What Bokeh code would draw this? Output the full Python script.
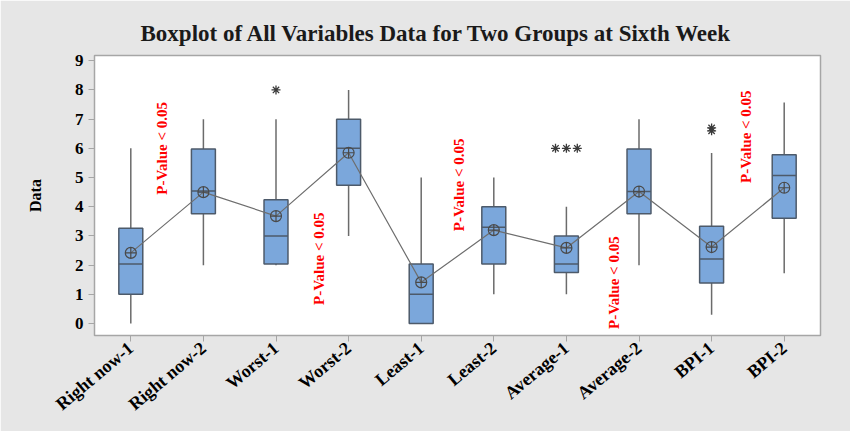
import math
from collections import Counter
from bokeh.plotting import figure
from bokeh.models import Range1d, FixedTicker, ColumnDataSource
from bokeh.core.properties import value
from bokeh.embed import file_html
from bokeh.resources import INLINE

# ---- data ----
categories = ["Right now-1", "Right now-2", "Worst-1", "Worst-2", "Least-1",
              "Least-2", "Average-1", "Average-2", "BPI-1", "BPI-2"]
whisker_low = [0.0, 2.0, 2.0, 3.0, 0.0, 1.0, 1.0, 2.0, 0.3, 1.72]
q1 = [1.0, 3.76, 2.04, 4.74, 0.0, 2.04, 1.75, 3.76, 1.39, 3.61]
median = [2.04, 4.54, 3.0, 6.0, 1.0, 3.3, 2.04, 4.52, 2.21, 5.07]
q3 = [3.26, 5.98, 4.24, 7.0, 2.04, 4.0, 3.0, 5.98, 3.33, 5.78]
whisker_high = [6.0, 7.0, 7.0, 8.0, 5.0, 5.0, 4.0, 7.0, 5.84, 7.57]
means = [2.42, 4.5, 3.68, 5.85, 1.41, 3.2, 2.59, 4.52, 2.62, 4.65]
outlier_cat = [3, 7, 7, 7, 9, 9]
outlier_val = [8.0, 6.0, 6.0, 6.0, 6.7, 6.6]
pvalue_text = ["P-Value < 0.05"] * 5
pvalue_x = [1.43, 3.59, 5.52, 7.65, 9.48]
pvalue_y = [6.0, 2.22, 4.75, 1.4, 6.4]
yticks = list(range(0, 10))

xs = list(range(1, len(categories) + 1))
BOX_W = 0.33
SERIF = "Liberation Serif"

p = figure(width=850, height=431, output_backend="svg", toolbar_location=None,
           x_range=Range1d(0.5, 10.5), y_range=Range1d(-0.41, 9.18),
           min_border_left=94, min_border_right=30, min_border_top=55,
           min_border_bottom=96,
           title="Boxplot of All Variables Data for Two Groups at Sixth Week")

p.background_fill_color = "white"
p.border_fill_color = "#e6e6e6"
p.outline_line_color = "#a6a6a6"
p.outline_line_width = 1.5
p.xgrid.visible = False
p.ygrid.visible = False

p.title.align = "left"
p.title.offset = 46
p.title.text_font = SERIF
p.title.text_font_style = "bold"
p.title.text_font_size = "23px"
p.title.text_color = "#1a1a1a"
p.title.standoff = 19

for ax in (p.xaxis[0], p.yaxis[0]):
    ax.axis_line_color = "#a6a6a6"
    ax.major_tick_line_color = "#a6a6a6"
    ax.minor_tick_line_color = None
    ax.major_tick_in = 0
    ax.major_tick_out = 6
    ax.major_label_text_font = SERIF
    ax.major_label_text_font_style = "bold"
    ax.major_label_text_color = "black"

p.yaxis.ticker = FixedTicker(ticks=yticks)
p.yaxis.major_label_text_font_size = "17px"
p.yaxis.axis_label = "Data"
p.yaxis.axis_label_text_font = SERIF
p.yaxis.axis_label_text_font_style = "bold"
p.yaxis.axis_label_text_font_size = "16px"
p.yaxis.axis_label_text_color = "black"
p.yaxis.axis_label_standoff = 28
p.yaxis.major_label_standoff = 5

p.xaxis.ticker = FixedTicker(ticks=xs)
p.xaxis.major_label_overrides = {x: c for x, c in zip(xs, categories)}
p.xaxis.major_label_orientation = 0.7
p.xaxis.major_label_text_font_size = "18px"
p.xaxis.major_label_standoff = 4

# whiskers
p.segment(x0=xs, y0=q3, x1=xs, y1=whisker_high, line_color="#6b6b6b", line_width=1.5)
p.segment(x0=xs, y0=whisker_low, x1=xs, y1=q1, line_color="#6b6b6b", line_width=1.5)
# boxes
p.vbar(x=xs, width=BOX_W, bottom=q1, top=q3, fill_color="#7ba7db",
       line_color="#4d5a6a", line_width=1.5)
# medians
p.segment(x0=[x - BOX_W / 2 for x in xs], y0=median,
          x1=[x + BOX_W / 2 for x in xs], y1=median,
          line_color="#4d5a6a", line_width=1.5)
# mean connect line and mean symbols
p.line(x=xs, y=means, line_color="#6e6e6e", line_width=1.2)
p.scatter(x=xs, y=means, marker="circle_cross", size=11, fill_alpha=0,
          line_color="#4a4a4a", line_width=1.2)

# outliers (duplicates shown side by side)
cnt = Counter(zip(outlier_cat, outlier_val))
seen = Counter()
ox = []
for c, v in zip(outlier_cat, outlier_val):
    n = cnt[(c, v)]
    i = seen[(c, v)]
    seen[(c, v)] += 1
    ox.append(c + (i - (n - 1) / 2) * 0.15)
p.scatter(x=ox, y=outlier_val, marker="asterisk", size=9, line_color="#3a3a3a",
          line_width=1.3)

# p-value annotations
src = ColumnDataSource(dict(x=pvalue_x, y=pvalue_y, t=pvalue_text))
p.text(x="x", y="y", text="t", source=src, angle=math.pi / 2,
       text_align="center", text_baseline="middle",
       text_font=value(SERIF), text_font_style="bold",
       text_font_size="15px", text_color="#ff0000")

open("out.html", "w").write(file_html(p, INLINE))
